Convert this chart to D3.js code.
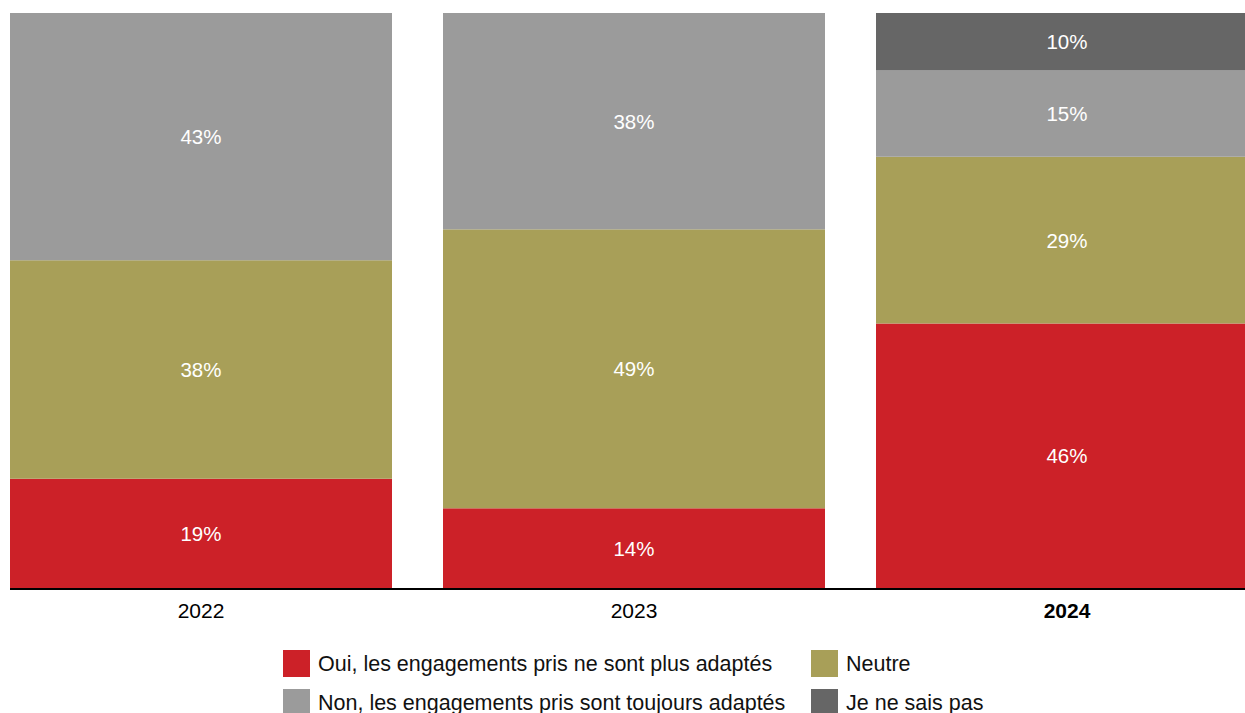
<!DOCTYPE html>
<html>
<head>
<meta charset="utf-8">
<script src="https://cdn.jsdelivr.net/npm/d3@7"></script>
<style>
  html, body { margin: 0; padding: 0; background: #fff; }
  svg { display: block; font-family: "Liberation Sans", Arial, sans-serif; }
</style>
</head>
<body>
<svg id="chart" width="1245" height="713"></svg>
<script>
// Survey years and answer categories
const years = ["2022", "2023", "2024"];
const seriesKeys = ["oui", "neutre", "non", "nsp"];
const seriesLabels = [
  "Oui, les engagements pris ne sont plus adaptés",
  "Neutre",
  "Non, les engagements pris sont toujours adaptés",
  "Je ne sais pas"
];
const seriesColors = ["#cc2128", "#a89f58", "#9b9b9b", "#666666"];

// Share of respondents (%) per answer, one value per year
const ouiValues    = [19, 14, 46];
const neutreValues = [38, 49, 29];
const nonValues    = [43, 38, 15];
const nspValues    = [0, 0, 10];

const rows = years.map((y, i) => ({
  year: y,
  oui: ouiValues[i],
  neutre: neutreValues[i],
  non: nonValues[i],
  nsp: nspValues[i]
}));

const svg = d3.select("#chart");

const padInner = 0.1178;
const step = 433;
const x = d3.scaleBand()
  .domain(years)
  .range([10, 10 + step * (years.length - padInner)])
  .paddingInner(padInner)
  .paddingOuter(0);

const y = d3.scaleLinear().domain([0, 1]).range([588, 13]);

const stacked = d3.stack()
  .keys(seriesKeys)
  .offset(d3.stackOffsetExpand)(rows);

const layers = svg.append("g")
  .selectAll("g")
  .data(stacked)
  .join("g")
  .attr("fill", (d, i) => seriesColors[i]);

layers.selectAll("rect")
  .data(d => d.filter(p => p.data[d.key] > 0).map(p => Object.assign(p, { key: d.key })))
  .join("rect")
  .attr("x", d => x(d.data.year))
  .attr("width", x.bandwidth())
  .attr("y", d => y(d[1]))
  .attr("height", d => y(d[0]) - y(d[1]));

// Value labels centred in each segment
layers.selectAll("text")
  .data(d => d.filter(p => p.data[d.key] > 0))
  .join("text")
  .attr("x", d => x(d.data.year) + x.bandwidth() / 2)
  .attr("y", d => (y(d[0]) + y(d[1])) / 2)
  .attr("text-anchor", "middle")
  .attr("dominant-baseline", "central")
  .attr("fill", "#ffffff")
  .attr("font-size", 20.5)
  .text(d => d.data[d.key] + "%");

// Category axis
const axis = svg.append("g")
  .attr("transform", "translate(0,589)")
  .call(d3.axisBottom(x).tickSize(0).tickPadding(14));
axis.select(".domain")
  .attr("d", "M10,0H1245")
  .attr("stroke", "#000")
  .attr("stroke-width", 2);
axis.selectAll(".tick text")
  .attr("font-family", "Liberation Sans, Arial, sans-serif")
  .attr("font-size", 21)
  .attr("fill", "#000")
  .attr("font-weight", d => d === "2024" ? "bold" : "normal");

// Legend in two columns
const legendPos = [
  { x: 283, y: 650 },
  { x: 811, y: 650 },
  { x: 283, y: 689 },
  { x: 811, y: 689 }
];
const legend = svg.append("g")
  .selectAll("g")
  .data(seriesLabels)
  .join("g")
  .attr("transform", (d, i) => `translate(${legendPos[i].x},${legendPos[i].y})`);
legend.append("rect")
  .attr("width", 27)
  .attr("height", 27)
  .attr("fill", (d, i) => seriesColors[i]);
legend.append("text")
  .attr("x", 35)
  .attr("y", 13.5)
  .attr("dominant-baseline", "central")
  .attr("font-size", 21.5)
  .attr("fill", "#111")
  .text(d => d);
</script>
</body>
</html>
